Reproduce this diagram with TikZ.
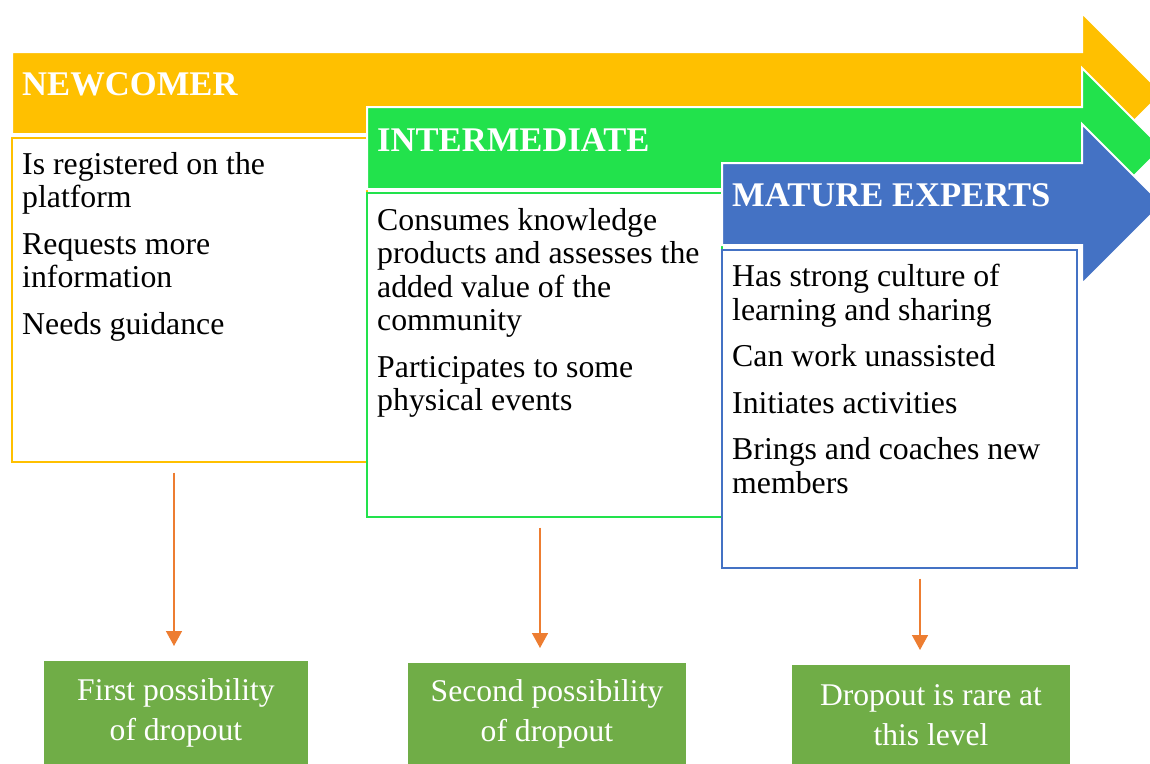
\documentclass[tikz,border=0pt]{standalone}
\usepackage{fontspec}
\setmainfont{Liberation Serif}
\usetikzlibrary{positioning, arrows.meta}
\tikzstyle{canvas} = [x = 1pt, y = -1pt]
\definecolor{newcomerColor}{RGB}{255,192,0}
\definecolor{intermediateColor}{RGB}{34,226,76}
\definecolor{expertColor}{RGB}{68,114,196}
\definecolor{dropColor}{RGB}{112,173,71}
\definecolor{pointerColor}{RGB}{237,125,49}
\tikzstyle{stageArrowStyle} = [draw=white, line width=2pt]
\tikzstyle{stageTitle} = [font=\fontsize{34.6}{40}\selectfont\bfseries, text=white, anchor=base west, inner sep=0]
\tikzstyle{stageBoxStyle} = [fill=white, line width=2pt, anchor=north west, inner sep=0, outer sep=0]
\tikzstyle{stageText} = [font=\fontsize{31.8}{33.5}\selectfont, align=left, anchor=north west, inner sep=0]
\tikzstyle{dropBoxStyle} = [fill=dropColor, text=white, font=\fontsize{31.6}{40}\selectfont, align=center, anchor=north, inner sep=0]
\tikzstyle{dropArrow} = [pointerColor, line width=1.5pt, shorten <=10.5pt, shorten >=15pt, -{Triangle[width=16pt, length=15pt]}]
\newcommand{\stageArrow}[3]{\filldraw [stageArrowStyle, fill=#1] (#2, #3) -- (1082, #3) -- (1082, #3 - 39) -- (1162, #3 + 41) -- (1082, #3 + 121) -- (1082, #3 + 82) -- (#2, #3 + 82) -- cycle;}
\newcommand{\stageBox}[6]{\node [stageBoxStyle, draw=#2, minimum width=#5pt, minimum height=#6pt] (#1) at (#3, #4) {};}
\newcommand{\dropBox}[6]{\node [dropBoxStyle, minimum width=#4pt, minimum height=#5pt] (#1) at (#2, #3) {#6};}
\newcommand{\dropPointer}[3]{
  \coordinate (#2Tip) at ([xshift=#3pt]#2.north);
  \draw [dropArrow] (#1.south -| #2Tip) -- (#2Tip);
}

\begin{document}
\begin{tikzpicture}[canvas]
       \useasboundingbox (0, 0) rectangle (1150, 763);
       \clip (0, 0) rectangle (1150, 763);

       \stageArrow{newcomerColor}{12}{52}
       \node [stageTitle] (newTitle) at (22, 95) {NEWCOMER};
       \stageBox{newBox}{newcomerColor}{12}{138}{355}{324}
       \node [stageText] (newText) at (22, 152) {Is registered on the\\platform\\[13pt]Requests more\\information\\[13pt]Needs guidance};

       \stageArrow{intermediateColor}{367}{107}
       \node [stageTitle] (midTitle) at (377, 151) {INTERMEDIATE};
       \stageBox{midBox}{intermediateColor}{367}{193}{355}{324}
       \node [stageText] (midText) at (377, 208) {Consumes knowledge\\products and assesses the\\added value of the\\community\\[13pt]Participates to some\\physical events};

       \stageArrow{expertColor}{722}{163}
       \node [stageTitle] (expertTitle) at (732, 206) {MATURE EXPERTS};
       \stageBox{expertBox}{expertColor}{722}{250}{355}{318}
       \node [stageText] (expertText) at (732, 264) {Has strong culture of\\learning and sharing\\[13pt]Can work unassisted\\[13pt]Initiates activities\\[13pt]Brings and coaches new\\members};

       \dropBox{dropA}{176}{661}{264}{104}{First possibility\\of dropout}
       \dropBox{dropB}{547}{663}{278}{102}{Second possibility\\of dropout}
       \dropBox{dropC}{931}{665}{278}{100}{Dropout is rare at\\this level}

       \dropPointer{newBox}{dropA}{-2}
       \dropPointer{midBox}{dropB}{-7}
       \dropPointer{expertBox}{dropC}{-11}
     \end{tikzpicture}
\end{document}
